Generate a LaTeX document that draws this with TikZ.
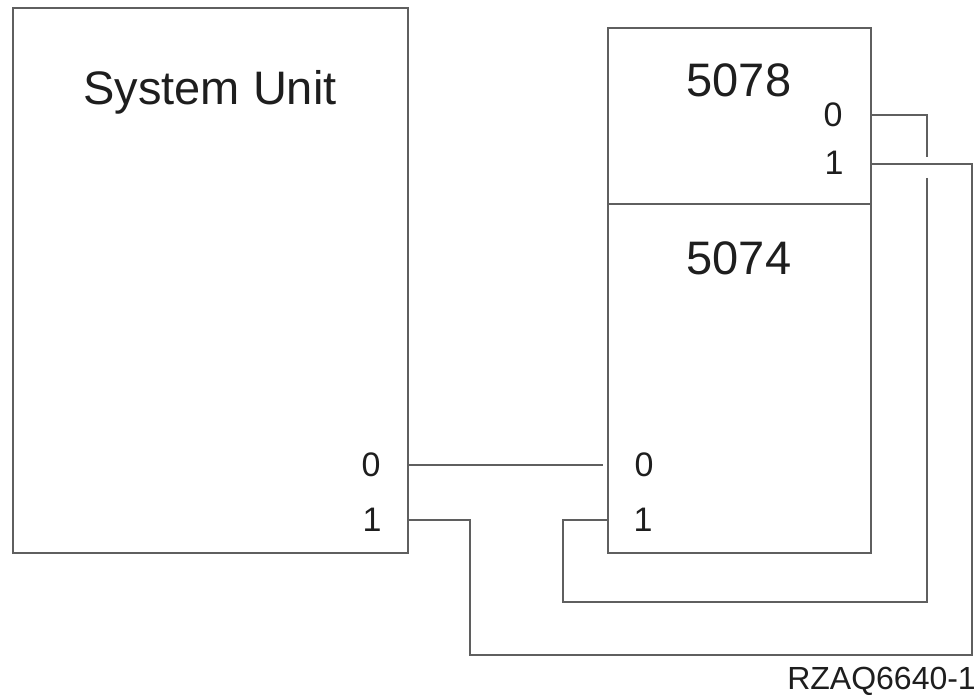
\documentclass[tikz,border=0pt]{standalone}
\usepackage{fontspec}
\setmainfont{Liberation Sans}
\begin{document}
\begin{tikzpicture}[x=1pt,y=-1pt,
  box/.style={draw=linec, line width=2.2pt, anchor=north west, inner sep=0pt},
  wire/.style={draw=linec, line width=2.2pt},
  big/.style={font=\fontsize{47}{47}\selectfont, text=txt, inner sep=0pt},
  port/.style={font=\fontsize{34}{34}\selectfont, text=txt, inner sep=0pt}]
\definecolor{linec}{RGB}{95,95,95}
\definecolor{txt}{RGB}{30,30,30}
\useasboundingbox (0,0) rectangle (978,698);
% boxes
\node[box, minimum width=395pt, minimum height=545pt] (su) at (12,7) {};
\node[box, minimum width=263pt, minimum height=176pt] (u5078) at (607,27) {};
\node[box, minimum width=263pt, minimum height=349pt] (u5074) at (607,203) {};
% titles
\node[big] (tsu) at (210,92) {System Unit};
\node[big] (t5078) at (739,80) {5078};
\node[big] (t5074) at (739,258) {5074};
% port labels
\node[port] (lsu0) at (371,465) {0};
\node[port] (lsu1) at (372,520) {1};
\node[port] (lb0) at (644,465) {0};
\node[port] (lb1) at (643,520) {1};
\node[port] (la0) at (833,115) {0};
\node[port] (la1) at (834,163) {1};
% port points
\coordinate (su0) at (407,465);
\coordinate (su1) at (407,520);
\coordinate (b0) at (603,465);
\coordinate (b1) at (607,520);
\coordinate (a0) at (870,115);
\coordinate (a1) at (870,164);
\coordinate (g1) at (927,157);
\coordinate (g2) at (927,178);
\coordinate (c1) at (470,655);
\coordinate (c2) at (972,164);
\coordinate (c3) at (563,602);
% wires
\draw[wire] (su0) -- (b0);
\draw[wire] (su1) -| (c1) -| (c2) -- (a1);
\draw[wire] (a0) -| (g1);
\draw[wire] (g2) |- (c3) |- (b1);
% id
\node[font=\fontsize{32}{32}\selectfont, text=txt, inner sep=0pt, anchor=east] (id) at (976,681) {RZAQ6640-1};
\end{tikzpicture}
\end{document}
